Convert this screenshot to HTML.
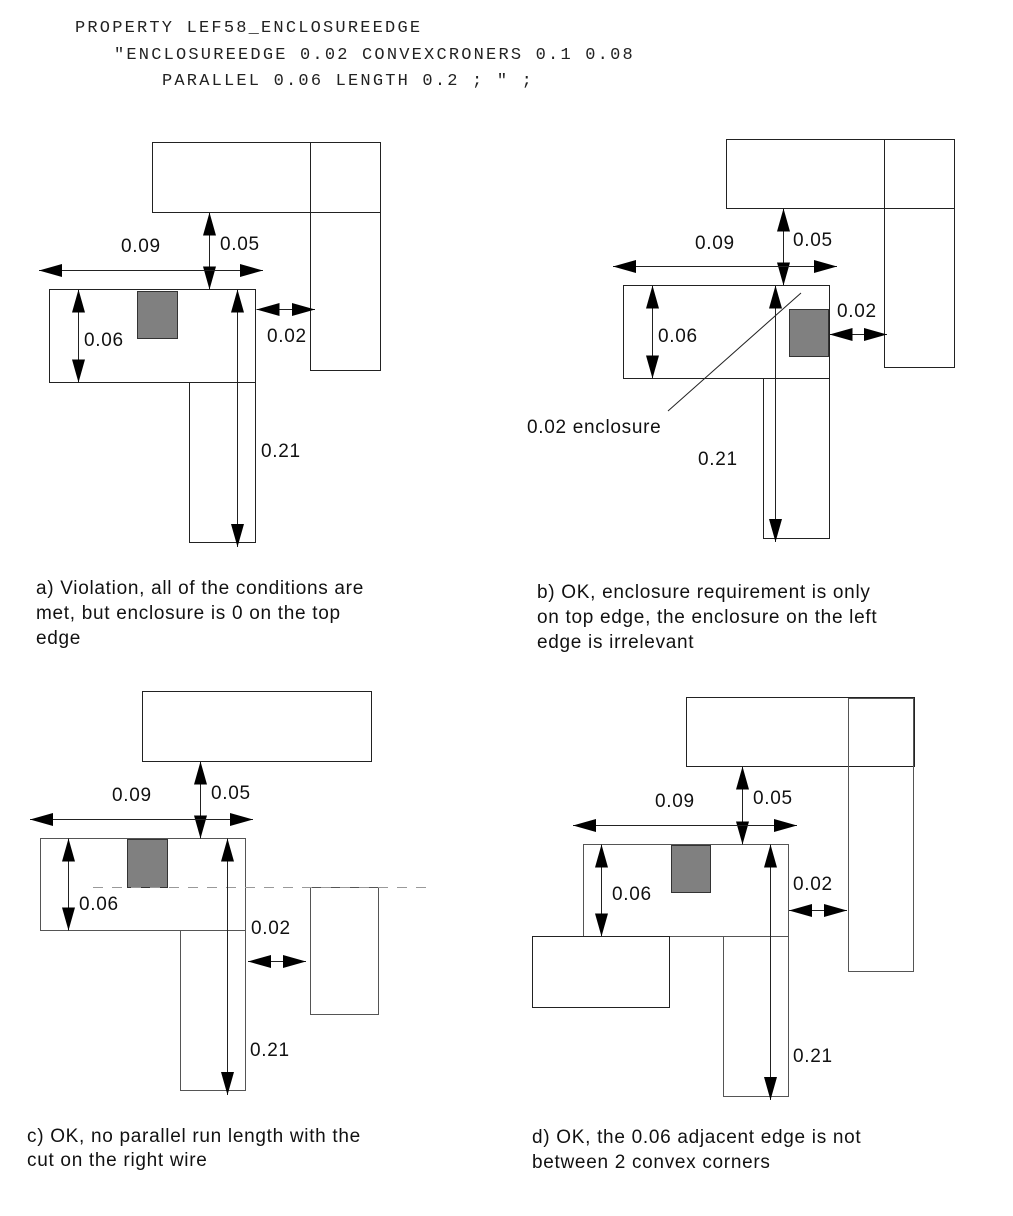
<!DOCTYPE html>
<html>
<head>
<meta charset="utf-8">
<style>
  html,body{margin:0;padding:0;background:#fff;}
  svg{display:block;}
  .mono{font-family:"Liberation Mono",monospace;font-size:17px;letter-spacing:2.2px;fill:#222;}
  .lbl{font-family:"Liberation Sans",Arial,sans-serif;font-size:19px;letter-spacing:0.7px;fill:#111;}
  .r{fill:none;stroke:#222;stroke-width:1;}
  .rg{fill:none;stroke:#555;stroke-width:1;}
  .g{fill:#808080;stroke:#333;stroke-width:1;}
  .a{stroke:#222;stroke-width:1;fill:none;marker-start:url(#ah);marker-end:url(#ah);}
</style>
</head>
<body>
<svg width="1013" height="1216" viewBox="0 0 1013 1216" xmlns="http://www.w3.org/2000/svg">
  <defs>
    <marker id="ah" markerUnits="userSpaceOnUse" markerWidth="23" markerHeight="13" refX="23" refY="6.5" orient="auto-start-reverse">
      <path d="M0,0 L23,6.5 L0,13 Z" fill="#000"/>
    </marker>
  </defs>
  <rect width="1013" height="1216" fill="#fff"/>

  <!-- Header -->
  <text class="mono" x="75" y="32">PROPERTY LEF58_ENCLOSUREEDGE</text>
  <text class="mono" x="114" y="59">"ENCLOSUREEDGE 0.02 CONVEXCRONERS 0.1 0.08</text>
  <text class="mono" x="162" y="85">PARALLEL 0.06 LENGTH 0.2 ; " ;</text>

  <!-- Panel a -->
  <rect class="r" x="152.5" y="142.5" width="228" height="70"/>
  <rect class="r" x="310.5" y="142.5" width="70" height="228"/>
  <rect class="r" x="49.5" y="289.5" width="206" height="93"/>
  <rect class="r" x="189.5" y="382.5" width="66" height="160"/>
  <rect class="g" x="137.5" y="291.5" width="40" height="47"/>
  <line class="a" x1="209.5" y1="212.5" x2="209.5" y2="289.5"/>
  <line class="a" x1="39" y1="270.5" x2="263" y2="270.5"/>
  <line class="a" x1="78.5" y1="289.5" x2="78.5" y2="382.5"/>
  <line class="a" x1="237.5" y1="289.5" x2="237.5" y2="547"/>
  <line class="a" x1="256.5" y1="309.5" x2="315" y2="309.5"/>
  <text class="lbl" x="121" y="252">0.09</text>
  <text class="lbl" x="220" y="250">0.05</text>
  <text class="lbl" x="84" y="346">0.06</text>
  <text class="lbl" x="261" y="457">0.21</text>
  <text class="lbl" x="267" y="342">0.02</text>
  <text class="lbl" x="36" y="594">a) Violation, all of the conditions are</text>
  <text class="lbl" x="36" y="619">met, but enclosure is 0 on the top</text>
  <text class="lbl" x="36" y="644">edge</text>

  <!-- Panel b -->
  <rect class="r" x="726.5" y="139.5" width="228" height="69"/>
  <rect class="r" x="884.5" y="139.5" width="70" height="228"/>
  <rect class="r" x="623.5" y="285.5" width="206" height="93"/>
  <rect class="r" x="763.5" y="378.5" width="66" height="160"/>
  <rect class="g" x="789.5" y="309.5" width="39" height="47"/>
  <line x1="668" y1="411" x2="801" y2="293" stroke="#222" stroke-width="1"/>
  <line class="a" x1="783.5" y1="208.5" x2="783.5" y2="285.5"/>
  <line class="a" x1="613" y1="266.5" x2="837" y2="266.5"/>
  <line class="a" x1="652.5" y1="285.5" x2="652.5" y2="378.5"/>
  <line class="a" x1="775.5" y1="285.5" x2="775.5" y2="542"/>
  <line class="a" x1="829.5" y1="334.5" x2="887" y2="334.5"/>
  <text class="lbl" x="695" y="249">0.09</text>
  <text class="lbl" x="793" y="246">0.05</text>
  <text class="lbl" x="658" y="342">0.06</text>
  <text class="lbl" x="698" y="465">0.21</text>
  <text class="lbl" x="837" y="317">0.02</text>
  <text class="lbl" x="527" y="433">0.02 enclosure</text>
  <text class="lbl" x="537" y="598">b) OK, enclosure requirement is only</text>
  <text class="lbl" x="537" y="623">on top edge, the enclosure on the left</text>
  <text class="lbl" x="537" y="648">edge is irrelevant</text>

  <!-- Panel c -->
  <rect class="r" x="142.5" y="691.5" width="229" height="70"/>
  <rect class="rg" x="40.5" y="838.5" width="205" height="92"/>
  <rect class="rg" x="180.5" y="930.5" width="65" height="160"/>
  <rect class="g" x="127.5" y="839.5" width="40" height="48"/>
  <rect class="rg" x="310.5" y="887.5" width="68" height="127"/>
  <line x1="93" y1="887.5" x2="430" y2="887.5" stroke="#999" stroke-width="1" stroke-dasharray="10,9"/>
  <line class="a" x1="200.5" y1="761.5" x2="200.5" y2="838.5"/>
  <line class="a" x1="30" y1="819.5" x2="253" y2="819.5"/>
  <line class="a" x1="68.5" y1="838.5" x2="68.5" y2="930.5"/>
  <line class="a" x1="227.5" y1="838.5" x2="227.5" y2="1095"/>
  <line class="a" x1="248" y1="961.5" x2="306" y2="961.5"/>
  <text class="lbl" x="112" y="801">0.09</text>
  <text class="lbl" x="211" y="799">0.05</text>
  <text class="lbl" x="79" y="910">0.06</text>
  <text class="lbl" x="250" y="1056">0.21</text>
  <text class="lbl" x="251" y="934">0.02</text>
  <text class="lbl" x="27" y="1142">c) OK, no parallel run length with the</text>
  <text class="lbl" x="27" y="1166">cut on the right wire</text>

  <!-- Panel d -->
  <rect class="r" x="686.5" y="697.5" width="228" height="69"/>
  <rect class="rg" x="848.5" y="698.5" width="65" height="273"/>
  <rect class="rg" x="583.5" y="844.5" width="205" height="92"/>
  <rect class="r" x="532.5" y="936.5" width="137" height="71"/>
  <rect class="rg" x="723.5" y="936.5" width="65" height="160"/>
  <rect class="g" x="671.5" y="845.5" width="39" height="47"/>
  <line class="a" x1="742.5" y1="766.5" x2="742.5" y2="844.5"/>
  <line class="a" x1="573" y1="825.5" x2="797" y2="825.5"/>
  <line class="a" x1="601.5" y1="844.5" x2="601.5" y2="936.5"/>
  <line class="a" x1="770.5" y1="844.5" x2="770.5" y2="1100"/>
  <line class="a" x1="789" y1="910.5" x2="847" y2="910.5"/>
  <text class="lbl" x="655" y="807">0.09</text>
  <text class="lbl" x="753" y="804">0.05</text>
  <text class="lbl" x="612" y="900">0.06</text>
  <text class="lbl" x="793" y="1062">0.21</text>
  <text class="lbl" x="793" y="890">0.02</text>
  <text class="lbl" x="532" y="1143">d) OK, the 0.06 adjacent edge is not</text>
  <text class="lbl" x="532" y="1168">between 2 convex corners</text>
</svg>
</body>
</html>
